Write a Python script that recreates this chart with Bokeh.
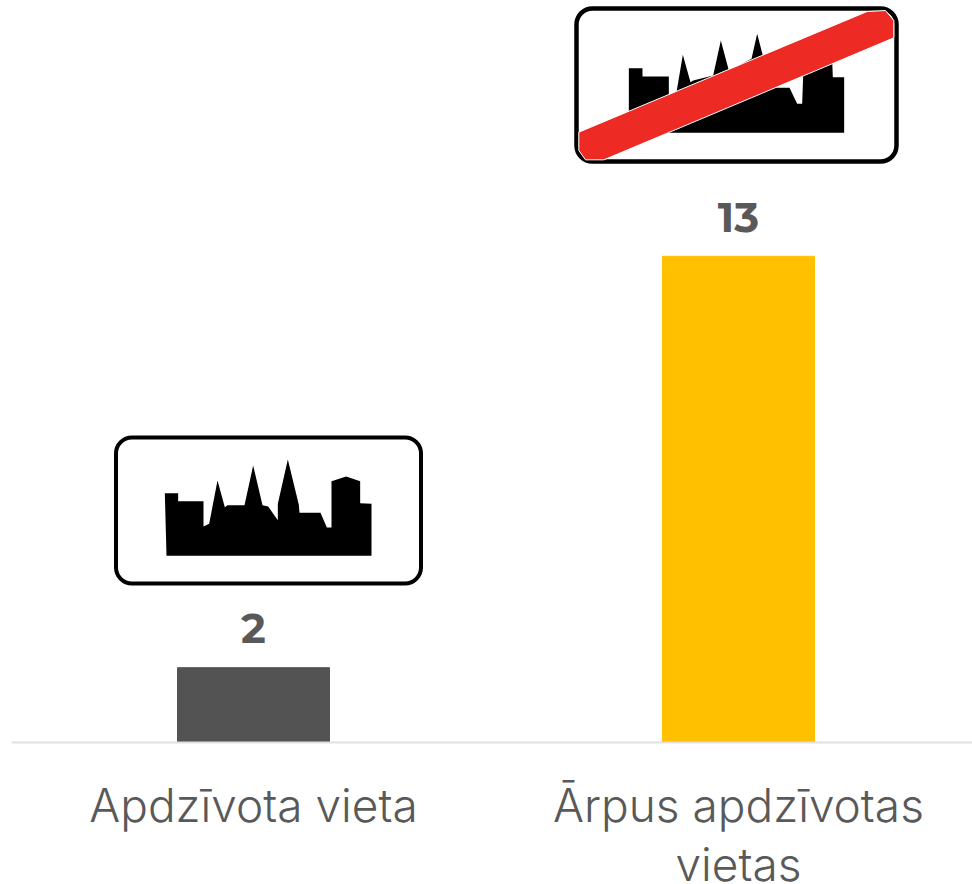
from bokeh.plotting import figure
from bokeh.models import Range1d, FixedTicker, ColumnDataSource
from bokeh.core.properties import value
from bokeh.embed import file_html
from bokeh.resources import INLINE

categories = ["Apdzīvota vieta", "Ārpus apdzīvotas\nvietas"]
values = [2, 13]
bar_colors = ["#535353", "#FFC000"]
value_labels = ["2", "13"]

# Road-sign artwork (page pixels = zoom / 3 + offset)
town_x = [193,233,233,309,309,326,351,373,381,432,458,486,503,532,532,562,595,597,660,679,693,693,737,779,779,813,813,198]
town_y = [203,203,227,227,303,295,165,245,239,239,120,239,243,284,235,102,238,262,262,306,306,167,153,167,233,235,391,391]
end_x = [190,231,231,310,310,333,352,375,383,443,466,490,558,575,592,600,620,672,695,710,713,740,800,802,836,836,190]
end_y = [203,203,228,228,285,275,163,245,240,225,120,210,175,100,165,240,262,262,310,310,225,200,180,230,230,397,397]
band_x = [40,905,960,985,985,115,60,40]
band_y = [395,33,30,60,112,478,478,450]

W, H = 972, 884
LEFT, AXIS_Y = 11, 742
PX_PER_UNIT = 37.4
CAT_W = 485

p = figure(width=W, height=H, output_backend="svg", toolbar_location=None,
           x_range=Range1d(-(253 - LEFT) / CAT_W, (W - 253) / CAT_W),
           y_range=Range1d(-(H - AXIS_Y) / PX_PER_UNIT, AXIS_Y / PX_PER_UNIT),
           min_border_left=LEFT, min_border_right=0, min_border_top=0,
           min_border_bottom=0, margin=(0, 0, 0, 0))
p.extra_x_ranges["px"] = Range1d(LEFT, W)
p.extra_y_ranges["px"] = Range1d(H, 0)
p.outline_line_color = None
p.grid.visible = False
p.yaxis.visible = False
p.background_fill_color = "white"

xs = list(range(len(categories)))
src = ColumnDataSource(dict(x=xs, top=values, color=bar_colors, label=value_labels))
p.vbar(x="x", top="top", bottom=0, width=152 / CAT_W, color="color", source=src)
p.text(x="x", y="top", text="label", source=src, text_align="center", text_baseline="alphabetic",
       y_offset=-39, text_font=value("Montserrat, Inter"), text_font_style="bold",
       text_font_size="42px", text_color="#595959")

ax = p.xaxis[0]
ax.fixed_location = 0
ax.ticker = FixedTicker(ticks=xs)
ax.major_label_overrides = {i: c for i, c in enumerate(categories)}
ax.major_tick_line_color = None
ax.minor_tick_line_color = None
ax.major_tick_out = 0
ax.axis_line_color = "#E0E0E0"
ax.axis_line_width = 2
ax.major_label_text_font = "Montserrat Light, Inter Light"
ax.major_label_text_font_size = "46px"
ax.major_label_text_color = "#595959"
ax.major_label_text_line_height = 1.06
ax.major_label_standoff = 34


def sign(x0, x1, y0, y1, lw):
    p.quad(left=[x0], right=[x1], top=[y0], bottom=[y1], fill_color="white", line_color="black",
           line_width=lw, border_radius=16, x_range_name="px", y_range_name="px")


def shape(xz, yz, ox, oy, color, **kw):
    p.patch([a / 3 + ox for a in xz], [b / 3 + oy for b in yz], fill_color=color,
            x_range_name="px", y_range_name="px", **kw)


sign(115.5, 420.5, 437, 583, 4)
shape(town_x, town_y, 100, 425, "black", line_color=None)
sign(576, 896, 8, 161, 4.5)
shape(end_x, end_y, 565, 0, "black", line_color=None)
shape(band_x, band_y, 565, 0, "#EE2A24", line_color="white", line_width=1)

open("out.html", "w").write(file_html(p, INLINE))
